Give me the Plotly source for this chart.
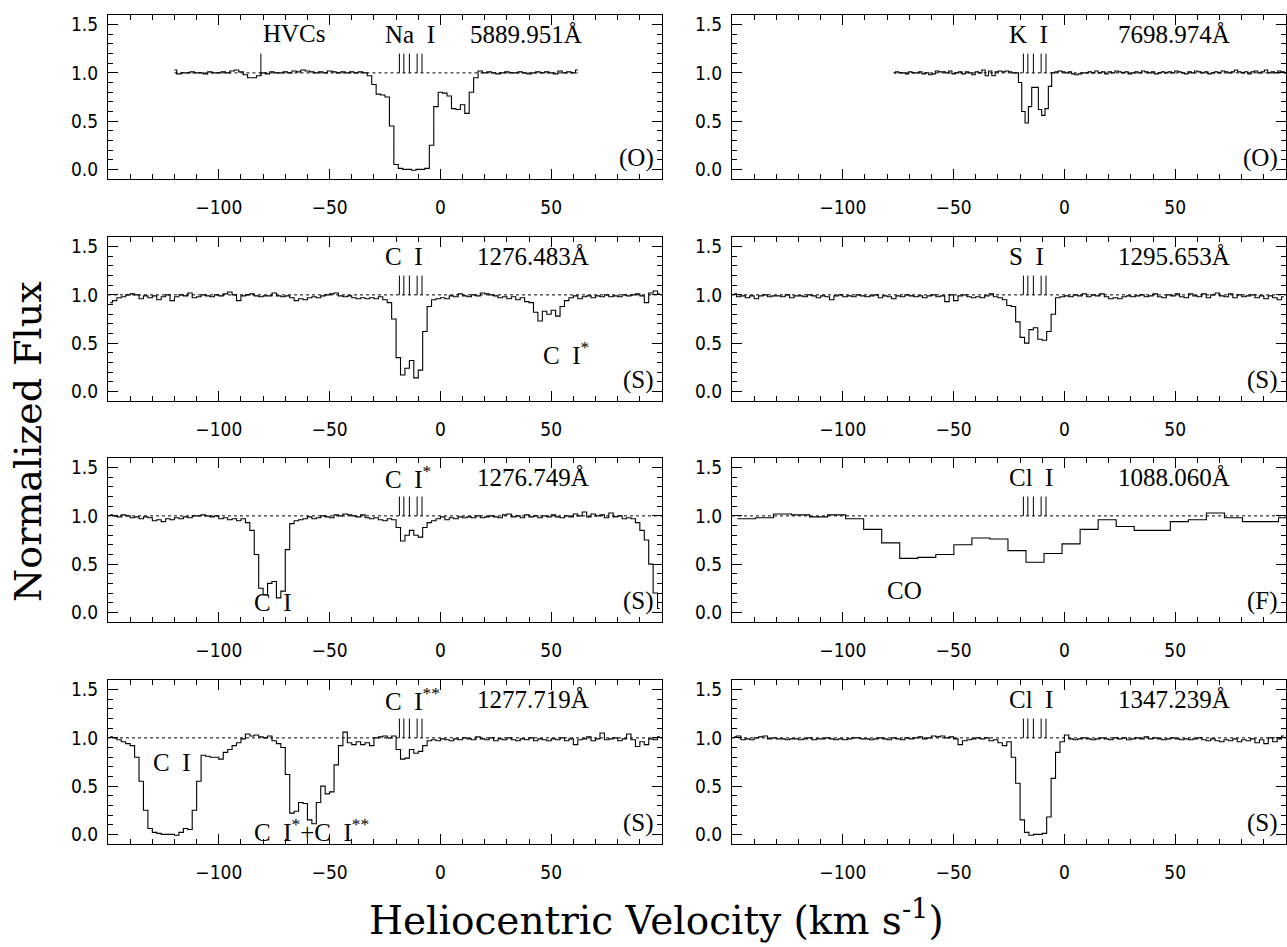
import numpy as np
import plotly.graph_objects as go

# ---------------- data (normalized flux on each spectrum's velocity pixel grid) ----------------
# Na I 5889.951 (optical), grid start / step in km/s
NAI_V0, NAI_DV = -120.0, 2.0
NAI_FLUX = [
    1.03, 0.99, 1.00, 1.00, 1.01, 1.00, 1.00, 0.99, 1.01, 1.00,
    1.00, 1.01, 1.00, 1.02, 1.03, 1.01, 0.98, 0.95, 0.95, 0.97,
    1.00, 0.99, 1.01, 1.00, 1.00, 1.01, 1.00, 1.02, 1.01, 1.03,
    1.02, 1.01, 1.00, 1.01, 1.00, 1.02, 1.01, 1.00, 1.01, 1.00,
    1.01, 1.00, 1.01, 1.00, 0.97, 0.88, 0.78, 0.77, 0.75, 0.45,
    0.05, 0.01, 0.00, 0.00, -0.01, 0.00, 0.00, 0.01, 0.25, 0.65,
    0.80, 0.79, 0.76, 0.63, 0.62, 0.67, 0.58, 0.80, 0.95, 1.02,
    1.00, 1.01, 1.00, 0.99, 1.00, 1.01, 1.00, 1.00, 1.01, 1.00,
    0.99, 1.00, 1.01, 1.00, 1.01, 1.00, 0.99, 1.02, 1.00, 1.01,
    1.00, 1.03,
]

# K I 7698.974 (optical)
KI_V0, KI_DV = -77.0, 1.5
KI_FLUX = [
    1.00, 1.01, 1.00, 1.00, 0.99, 1.01, 1.00, 1.00, 1.01, 0.99,
    1.00, 0.98, 0.99, 1.02, 1.01, 1.01, 1.00, 1.02, 0.99, 1.00,
    1.01, 0.99, 1.01, 1.00, 0.98, 1.01, 1.00, 1.03, 0.97, 1.02,
    0.97, 1.01, 1.02, 1.01, 1.02, 1.01, 1.00, 1.00, 0.90, 0.60,
    0.48, 0.65, 0.85, 0.85, 0.62, 0.56, 0.63, 0.86, 1.00, 1.01,
    1.02, 1.01, 1.00, 1.01, 0.99, 0.98, 0.99, 1.00, 1.00, 1.01,
    1.00, 1.02, 1.00, 1.01, 0.99, 1.01, 1.00, 1.02, 1.01, 1.00,
    1.01, 0.99, 1.00, 1.01, 1.00, 1.02, 1.01, 1.00, 1.01, 0.99,
    1.00, 1.01, 1.00, 1.01, 1.00, 1.02, 1.01, 1.00, 0.99, 1.01,
    1.00, 1.02, 1.01, 1.00, 1.01, 0.99, 1.00, 1.01, 1.00, 1.02,
    1.01, 1.00, 1.01, 1.03, 1.01, 1.00, 1.01, 0.99, 1.01, 1.02,
    1.00, 1.01, 1.03, 1.00, 1.01, 1.00, 1.02, 1.01, 1.00,
]

# STIS spectra share one velocity grid
STIS_V0, STIS_DV = -149.0, 2.0

CI_1276_FLUX = [
    0.92, 0.94, 0.97, 0.98, 1.00, 1.01, 1.00, 0.96, 0.99, 0.97,
    0.99, 0.95, 0.98, 1.00, 0.94, 0.98, 1.00, 0.99, 1.02, 0.97,
    0.98, 1.00, 0.99, 0.98, 1.00, 0.99, 1.01, 1.03, 1.00, 0.94,
    0.99, 1.00, 1.01, 0.99, 0.98, 0.99, 0.99, 1.02, 0.99, 0.98,
    0.99, 0.97, 0.94, 0.96, 0.95, 0.97, 0.98, 0.97, 0.99, 1.00,
    1.01, 1.02, 0.99, 0.98, 0.99, 0.97, 0.96, 0.97, 0.96, 0.97,
    0.96, 0.98, 0.95, 0.92, 0.75, 0.35, 0.17, 0.24, 0.32, 0.14,
    0.22, 0.62, 0.88, 0.95, 0.96, 0.97, 0.96, 0.99, 0.98, 1.01,
    0.99, 0.98, 1.00, 0.99, 1.02, 1.01, 1.00, 0.99, 0.97, 0.98,
    0.96, 0.98, 0.95, 0.97, 0.93, 0.92, 0.82, 0.73, 0.83, 0.80,
    0.84, 0.78, 0.88, 0.94, 0.97, 0.99, 0.96, 0.98, 0.99, 0.97,
    0.99, 0.98, 1.00, 0.98, 0.99, 0.98, 1.00, 0.99, 1.00, 1.01,
    0.99, 0.92, 1.02, 1.04, 1.01,
]

SI_1295_FLUX = [
    1.01, 0.98, 0.99, 0.97, 0.99, 0.96, 0.99, 1.00, 0.98, 0.99,
    0.99, 0.98, 1.00, 0.97, 0.99, 0.99, 0.98, 1.00, 0.99, 0.97,
    0.99, 0.98, 0.95, 0.99, 1.00, 0.98, 0.99, 0.98, 1.00, 0.99,
    0.98, 0.99, 1.00, 0.97, 0.99, 0.98, 0.96, 0.99, 0.98, 1.00,
    0.99, 0.98, 0.99, 0.97, 0.99, 1.00, 0.98, 0.99, 0.93, 1.00,
    0.94, 0.99, 1.00, 0.98, 0.97, 0.98, 0.97, 0.99, 1.01, 0.98,
    0.97, 0.95, 0.89, 0.88, 0.72, 0.56, 0.50, 0.64, 0.66, 0.54,
    0.53, 0.62, 0.80, 0.97, 0.98, 0.99, 0.98, 1.00, 0.99, 1.01,
    0.98, 1.00, 0.99, 1.01, 0.98, 0.96, 0.97, 0.96, 0.98, 0.99,
    0.98, 0.99, 1.00, 0.98, 0.99, 1.01, 0.98, 0.97, 1.00, 0.99,
    1.01, 0.98, 0.97, 1.01, 0.99, 0.98, 1.01, 0.97, 1.00, 1.02,
    0.99, 0.98, 1.01, 0.97, 1.00, 0.98, 0.99, 1.00, 0.97, 0.99,
    0.96, 0.99, 0.97, 0.95, 0.98,
]

CIS_1276_FLUX = [
    1.01, 1.00, 0.99, 1.01, 1.00, 0.98, 0.99, 0.97, 0.99, 0.98,
    0.95, 0.96, 0.94, 0.97, 0.96, 0.98, 0.97, 0.99, 0.98, 1.00,
    1.00, 1.01, 1.00, 0.99, 1.00, 0.97, 0.98, 0.96, 0.97, 0.95,
    0.97, 0.93, 0.85, 0.60, 0.25, 0.18, 0.30, 0.32, 0.15, 0.22,
    0.65, 0.92, 0.95, 0.96, 0.97, 0.99, 0.97, 0.98, 1.00, 0.99,
    0.98, 1.01, 1.00, 1.02, 1.01, 1.00, 0.99, 1.01, 0.98, 0.97,
    0.98, 0.96, 0.95, 0.97, 0.96, 0.88, 0.74, 0.80, 0.85, 0.80,
    0.78, 0.88, 0.93, 0.95, 0.97, 0.99, 0.96, 0.98, 0.97, 0.99,
    0.98, 0.99, 0.98, 1.00, 0.98, 0.99, 1.00, 0.99, 0.98, 1.01,
    1.02, 0.99, 1.00, 0.98, 1.01, 0.99, 1.00, 0.98, 1.00, 0.99,
    1.01, 0.99, 0.98, 1.00, 0.99, 1.02, 1.00, 1.04, 0.99, 1.02,
    1.00, 1.01, 0.98, 1.03, 0.99, 1.00, 0.97, 0.98, 0.97, 0.93,
    0.85, 0.75, 0.50, 0.20, 0.04,
]

CISS_1277_FLUX = [
    1.01, 1.00, 0.98, 0.96, 0.94, 0.92, 0.80, 0.55, 0.25, 0.06,
    0.02, 0.01, 0.00, 0.00, 0.00, -0.01, 0.02, 0.06, 0.05, 0.25,
    0.55, 0.82, 0.81, 0.80, 0.80, 0.78, 0.85, 0.88, 0.92, 0.95,
    0.99, 1.04, 1.02, 1.03, 1.01, 1.00, 1.02, 0.97, 0.94, 0.90,
    0.62, 0.22, 0.24, 0.33, 0.32, 0.15, 0.11, 0.33, 0.50, 0.42,
    0.44, 0.72, 0.92, 1.06, 0.95, 0.93, 0.96, 0.93, 0.95, 0.92,
    1.00, 1.01, 1.02, 1.00, 1.02, 0.88, 0.78, 0.79, 0.88, 0.84,
    0.86, 0.92, 0.97, 0.98, 0.97, 0.99, 0.98, 0.97, 0.99, 0.98,
    1.00, 0.99, 0.98, 1.01, 0.99, 0.98, 1.00, 0.97, 0.99, 0.98,
    1.00, 0.98, 0.97, 0.99, 0.98, 1.00, 0.97, 0.99, 0.98, 0.97,
    0.99, 0.98, 1.00, 0.97, 0.99, 0.93, 0.98, 0.99, 1.01, 0.97,
    0.99, 1.05, 0.98, 0.99, 1.00, 0.97, 0.99, 1.04, 0.98, 0.91,
    0.96, 0.93, 0.99, 0.98, 1.01,
]

CLI_1347_FLUX = [
    1.01, 1.02, 0.98, 0.99, 0.98, 1.00, 1.01, 1.02, 0.99, 1.00,
    0.99, 0.99, 0.98, 0.99, 0.99, 0.98, 0.99, 1.00, 0.98, 0.99,
    0.99, 1.00, 0.99, 0.98, 0.99, 0.98, 0.99, 1.00, 1.00, 0.99,
    0.99, 0.98, 0.99, 1.00, 0.99, 0.98, 1.00, 0.99, 0.98, 1.00,
    0.99, 1.00, 1.01, 0.99, 1.00, 1.02, 1.01, 1.02, 1.00, 1.01,
    0.99, 0.93, 0.97, 0.98, 0.99, 1.00, 0.99, 1.00, 0.97, 0.98,
    0.95, 0.92, 0.96, 0.80, 0.53, 0.15, 0.02, -0.01, 0.00, 0.00,
    0.01, 0.18, 0.58, 0.85, 0.96, 1.03, 0.99, 0.98, 0.99, 1.00,
    0.99, 0.98, 0.99, 1.00, 0.99, 0.98, 1.00, 0.99, 1.00, 0.98,
    0.99, 1.00, 0.99, 1.01, 0.99, 1.00, 0.99, 0.98, 0.99, 1.00,
    0.99, 0.98, 0.99, 0.98, 0.99, 1.00, 0.98, 0.97, 0.99, 0.97,
    0.96, 0.98, 0.97, 0.99, 0.96, 0.98, 0.97, 0.99, 0.95, 0.98,
    0.94, 1.00, 0.96, 0.99, 1.02,
]

# FUSE Cl I 1088.060 (coarse bins)
FUSE_V0, FUSE_DV = -143.5, 8.14
CLI_1088_FLUX = [
    0.97, 0.98, 1.02, 1.01, 0.99, 1.01, 0.97, 0.86, 0.72, 0.56,
    0.57, 0.60, 0.70, 0.77, 0.76, 0.64, 0.52, 0.61, 0.71, 0.86,
    0.96, 0.89, 0.85, 0.85, 0.94, 0.96, 1.03, 0.98, 0.94, 0.94,
    0.98,
]

COMPONENT_V = [-18.5, -16.5, -14.0, -10.5, -8.3]
HVC_V = -81.0

NB = "\u00a0\u00a0"
ELEMENTS = ["Na" + NB + "I", "K" + NB + "I", "C" + NB + "I", "S" + NB + "I",
            "C" + NB + "I<sup>*</sup>", "Cl" + NB + "I",
            "C" + NB + "I<sup>**</sup>", "Cl" + NB + "I"]
WAVELENGTHS = ["5889.951Å", "7698.974Å", "1276.483Å", "1295.653Å",
               "1276.749Å", "1088.060Å", "1277.719Å", "1347.239Å"]
WAVE_X = [65, 75.5, 68, 75.5, 68, 75.5, 68, 75.5]
INSTRUMENTS = ["(O)", "(O)", "(S)", "(S)", "(S)", "(F)", "(S)", "(S)"]

# extra labels: (panel index, text, velocity, flux)
EXTRA_LABELS = [
    (0, "HVCs", -81.0, 1.41),
    (2, "C" + NB + "I<sup>*</sup>", 45.5, 0.40),
    (4, "C" + NB + "I", -85.0, 0.10),
    (5, "CO", -81.0, 0.23),
    (6, "C" + NB + "I", -130.5, 0.74),
    (6, "C" + NB + "I<sup>*</sup>+C" + NB + "I<sup>**</sup>", -85.0, 0.05),
]

XRANGE = [-150, 100]
YRANGE = [-0.1, 1.6]
X_TICKS = [-100, -50, 0, 50]
Y_TICKS = [0.0, 0.5, 1.0, 1.5]

SPECTRA = [
    (NAI_V0, NAI_DV, NAI_FLUX, "hvh", "data"),
    (KI_V0, KI_DV, KI_FLUX, "hvh", "data"),
    (STIS_V0, STIS_DV, CI_1276_FLUX, "hvh", "full"),
    (STIS_V0, STIS_DV, SI_1295_FLUX, "hvh", "full"),
    (STIS_V0, STIS_DV, CIS_1276_FLUX, "hvh", "full"),
    (FUSE_V0, FUSE_DV, CLI_1088_FLUX, "bins", "full"),
    (STIS_V0, STIS_DV, CISS_1277_FLUX, "hvh", "full"),
    (STIS_V0, STIS_DV, CLI_1347_FLUX, "hvh", "full"),
]

# ---------------- layout geometry ----------------
W, H = 1287, 947
COL_X = [(108, 662), (732, 1286)]
ROW_TOP = [15, 237, 458, 680]
PANEL_H = 164

SERIF = "Liberation Serif, Times New Roman, serif"
TITLE_SERIF = "DejaVu Serif, Liberation Serif, serif"
SANS = "Liberation Sans Narrow, DejaVu Sans Condensed, Arial Narrow, sans-serif"

fig = go.Figure()
annotations = []
layout_axes = {}

for i, (v0, dv, flux, mode, cont) in enumerate(SPECTRA):
    r, c = divmod(i, 2)
    n = i + 1
    xref = "x" if n == 1 else f"x{n}"
    yref = "y" if n == 1 else f"y{n}"
    flux = np.array(flux, dtype=float)
    v = v0 + dv * np.arange(len(flux))

    if mode == "bins":
        xs = v0 - dv / 2 + dv * np.arange(len(flux) + 1)
        ys = np.append(flux, flux[-1])
        shape = "hv"
    else:
        xs, ys, shape = v, flux, "hvh"

    cx = [v[0], v[-1]] if cont == "data" else XRANGE
    fig.add_trace(go.Scatter(x=cx, y=[1.0, 1.0], mode="lines",
                             line=dict(color="black", width=1, dash="dot"),
                             xaxis=xref, yaxis=yref, showlegend=False, hoverinfo="skip"))
    fig.add_trace(go.Scatter(x=xs, y=ys, mode="lines", line_shape=shape,
                             line=dict(color="black", width=1.1),
                             xaxis=xref, yaxis=yref, showlegend=False))
    tx, ty = [], []
    for cv in COMPONENT_V:
        tx += [cv, cv, None]
        ty += [1.0, 1.2, None]
    if i == 0:
        tx += [HVC_V, HVC_V, None]
        ty += [0.97, 1.2, None]
    fig.add_trace(go.Scatter(x=tx, y=ty, mode="lines",
                             line=dict(color="black", width=1),
                             xaxis=xref, yaxis=yref, showlegend=False, hoverinfo="skip"))

    x0p, x1p = COL_X[c]
    top = ROW_TOP[r]
    xdom = [x0p / W, x1p / W]
    ydom = [1 - (top + PANEL_H) / H, 1 - top / H]
    common = dict(showline=True, linecolor="black", linewidth=1, mirror="allticks",
                  ticks="inside", tickcolor="black", tickwidth=1, ticklen=10,
                  showgrid=False, zeroline=False,
                  tickfont=dict(family=SANS, size=19, color="black"))
    xname = "xaxis" if n == 1 else f"xaxis{n}"
    yname = "yaxis" if n == 1 else f"yaxis{n}"
    layout_axes[xname] = dict(common, domain=xdom, anchor=yref, range=XRANGE,
                              tickmode="array", tickvals=X_TICKS,
                              ticktext=["\u2212100", "\u221250", "0", "50"],
                              ticklabelstandoff=11,
                              minor=dict(ticks="inside", ticklen=5, tickmode="linear",
                                         tick0=0, dtick=10, tickcolor="black", tickwidth=1))
    layout_axes[yname] = dict(common, domain=ydom, anchor=xref, range=YRANGE,
                              tickmode="array", tickvals=Y_TICKS,
                              ticktext=["0.0", "0.5", "1.0", "1.5"],
                              ticklabelstandoff=5,
                              minor=dict(ticks="inside", ticklen=5, tickmode="linear",
                                         tick0=0, dtick=0.1, tickcolor="black", tickwidth=1))

    lab_font = dict(family=SERIF, size=25, color="black")
    annotations.append(dict(text=ELEMENTS[i], x=-26, y=1.40, xref=xref, yref=yref,
                            xanchor="left", yanchor="middle", showarrow=False, font=lab_font))
    annotations.append(dict(text=WAVELENGTHS[i], x=WAVE_X[i], y=1.40, xref=xref, yref=yref,
                            xanchor="right", yanchor="middle", showarrow=False, font=lab_font))
    annotations.append(dict(text=INSTRUMENTS[i], x=97.5, y=0.12, xref=xref, yref=yref,
                            xanchor="right", yanchor="middle", showarrow=False, font=lab_font))

for (pi, text, lx, ly) in EXTRA_LABELS:
    n = pi + 1
    xref = "x" if n == 1 else f"x{n}"
    yref = "y" if n == 1 else f"y{n}"
    annotations.append(dict(text=text, x=lx, y=ly, xref=xref, yref=yref,
                            xanchor="left", yanchor="middle", showarrow=False,
                            font=dict(family=SERIF, size=25, color="black")))

annotations.append(dict(text="Normalized Flux", x=28 / W, y=1 - 442 / H,
                        xref="paper", yref="paper", textangle=-90,
                        xanchor="center", yanchor="middle", showarrow=False,
                        font=dict(family=TITLE_SERIF, size=38, color="black")))
annotations.append(dict(text="Heliocentric Velocity (km s<sup>-1</sup>)", x=656 / W, y=1 - 918 / H,
                        xref="paper", yref="paper",
                        xanchor="center", yanchor="middle", showarrow=False,
                        font=dict(family=TITLE_SERIF, size=39, color="black")))

fig.update_layout(width=W, height=H,
                  margin=dict(l=0, r=0, t=0, b=0, autoexpand=False),
                  plot_bgcolor="white", paper_bgcolor="white",
                  showlegend=False, annotations=annotations, **layout_axes)

# remove the default page margin so the figure sits at the window's top-left corner
fig.write_html("out.html", config={"displayModeBar": False},
               post_script="document.body.style.margin='0';document.body.style.overflow='hidden';")
